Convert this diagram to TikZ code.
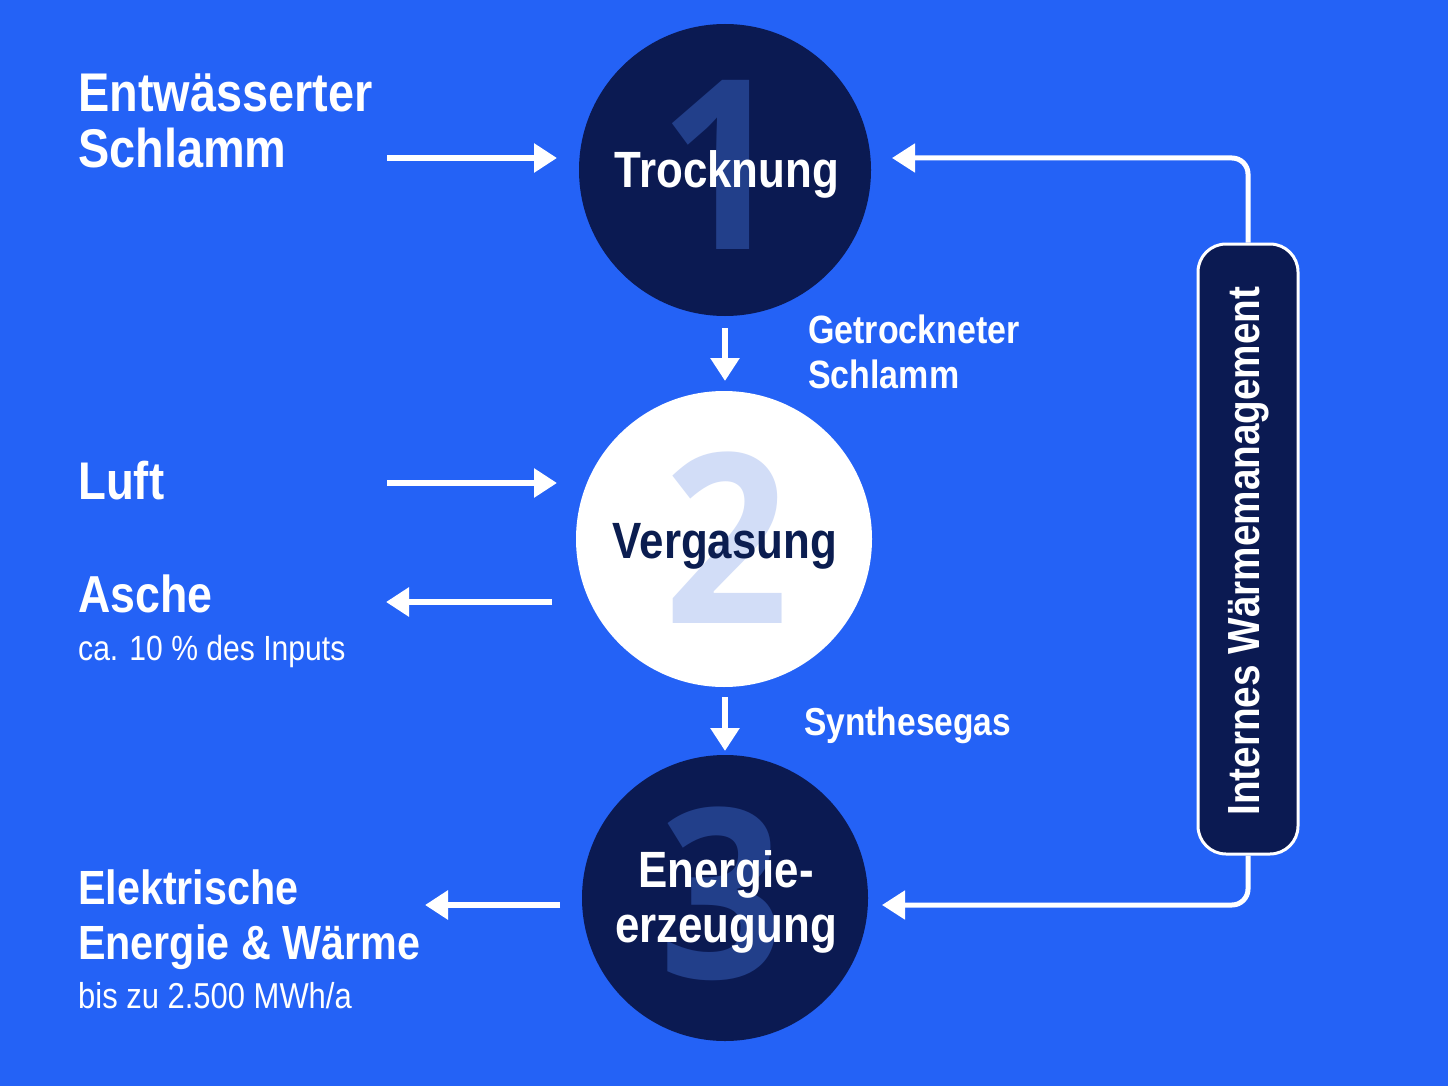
\documentclass[tikz,border=0pt]{standalone}
\usepackage{fontspec}
\setmainfont[FakeStretch=0.86]{Liberation Sans}
\newfontfamily\numfont[FakeStretch=0.92]{Open Sans}
\usetikzlibrary{arrows.meta}
\definecolor{bg}{HTML}{2462F6}
\definecolor{navy}{HTML}{0B1A52}
\definecolor{wmdark}{HTML}{223F8A}
\definecolor{wmlight}{HTML}{D2DDF7}
\definecolor{navytext}{HTML}{0B1D50}
\tikzset{
  flow/.style={draw=white,line width=6pt,-{Triangle[length=23pt,width=28pt]}},
  loop/.style={draw=white,line width=5pt,rounded corners=16pt,-{Triangle[length=23pt,width=28pt]}},
  stage/.style={circle,inner sep=0pt,minimum size=#1},
  bignum/.style={font=\numfont\fontsize{237}{237}\selectfont\bfseries,inner sep=0pt},
  stagelabel/.style={font=\fontsize{51}{55}\selectfont\bfseries,inner sep=0pt,align=center},
  head/.style={font=\fontsize{54.5}{56}\selectfont\bfseries,text=white,inner sep=0pt,anchor=base west},
  sub/.style={font=\fontsize{35}{38}\selectfont,text=white,inner sep=0pt,anchor=base west},
  mid/.style={font=\fontsize{39.5}{44}\selectfont\bfseries,text=white,inner sep=0pt,anchor=base west}
}
\begin{document}
\begin{tikzpicture}[x=1pt,y=-1pt]
\useasboundingbox (0,0) rectangle (1448,1086);
\fill[bg] (0,0) rectangle (1448,1086);

% stages
\node[stage=292pt,fill=navy] (c1) at (725,170) {};
\node[stage=296pt,fill=white] (c2) at (724,539) {};
\node[stage=286pt,fill=navy] (c3) at (725,898) {};

\node[bignum,text=wmdark] (n1) at (722,165) {1};
\node[bignum,text=wmlight] (n2) at (727,538) {2};
\node[bignum,text=wmdark] (n3) at (722,894) {3};

\node[stagelabel,text=white,anchor=base] (l1) at (727,188) {Trocknung};
\node[stagelabel,text=navytext,anchor=base] (l2) at (725,558) {Vergasung};
\node[stagelabel,text=white,anchor=base] (l3a) at (726,887) {Energie-};
\node[stagelabel,text=white,anchor=base] (l3b) at (726,942) {erzeugung};

% left labels
\node[head] (t1a) at (78,112) {Entwässerter};
\node[head] (t1b) at (78,168) {Schlamm};
\node[head,font=\fontsize{53}{56}\selectfont\bfseries] (t2) at (78,499) {Luft};
\node[head,font=\fontsize{52}{56}\selectfont\bfseries] (t3) at (78,612) {Asche};
\node[sub] (t3s) at (78,660) {ca. 10 \% des Inputs};
\node[head,font=\fontsize{48}{52}\selectfont\bfseries] (t4a) at (78,904) {Elektrische};
\node[head,font=\fontsize{48}{52}\selectfont\bfseries] (t4b) at (78,959) {Energie \& Wärme};
\node[sub,font=\fontsize{36}{38}\selectfont] (t4s) at (78,1008) {bis zu 2.500 MWh/a};

% middle labels
\node[mid] (g1) at (808,343) {Getrockneter};
\node[mid] (g2) at (808,388) {Schlamm};
\node[mid,font=\fontsize{39}{44}\selectfont\bfseries] (sg) at (804,735) {Synthesegas};

% heat management box
\node[draw=white,line width=3pt,fill=navy,rounded corners=28pt,minimum width=100pt,minimum height=610pt,inner sep=0pt] (wm) at (1248,549) {};
\node[rotate=90,font=\fontsize{45}{48}\selectfont\bfseries,text=white,inner sep=0pt] (wmt) at (1249,551) {Internes Wärmemanagement};

% connector end points
\coordinate (a1s) at (387,158);
\coordinate (a1e) at (557,158);
\coordinate (a2s) at (387,483);
\coordinate (a2e) at (557,483);
\coordinate (a3s) at (552,602);
\coordinate (a3e) at (386,602);
\coordinate (a4s) at (560,905);
\coordinate (a4e) at (425,905);
\coordinate (d1s) at (725,328);
\coordinate (d1e) at (725,381);
\coordinate (d2s) at (725,697);
\coordinate (d2e) at (725,751);
\coordinate (f1) at (892,158);
\coordinate (f3) at (882,905);

\draw[flow] (a1s) -- (a1e);
\draw[flow] (a2s) -- (a2e);
\draw[flow] (a3s) -- (a3e);
\draw[flow] (a4s) -- (a4e);
\draw[flow] (d1s) -- (d1e);
\draw[flow] (d2s) -- (d2e);
\draw[loop] (wm.north) |- (f1);
\draw[loop] (wm.south) |- (f3);
\end{tikzpicture}
\end{document}
